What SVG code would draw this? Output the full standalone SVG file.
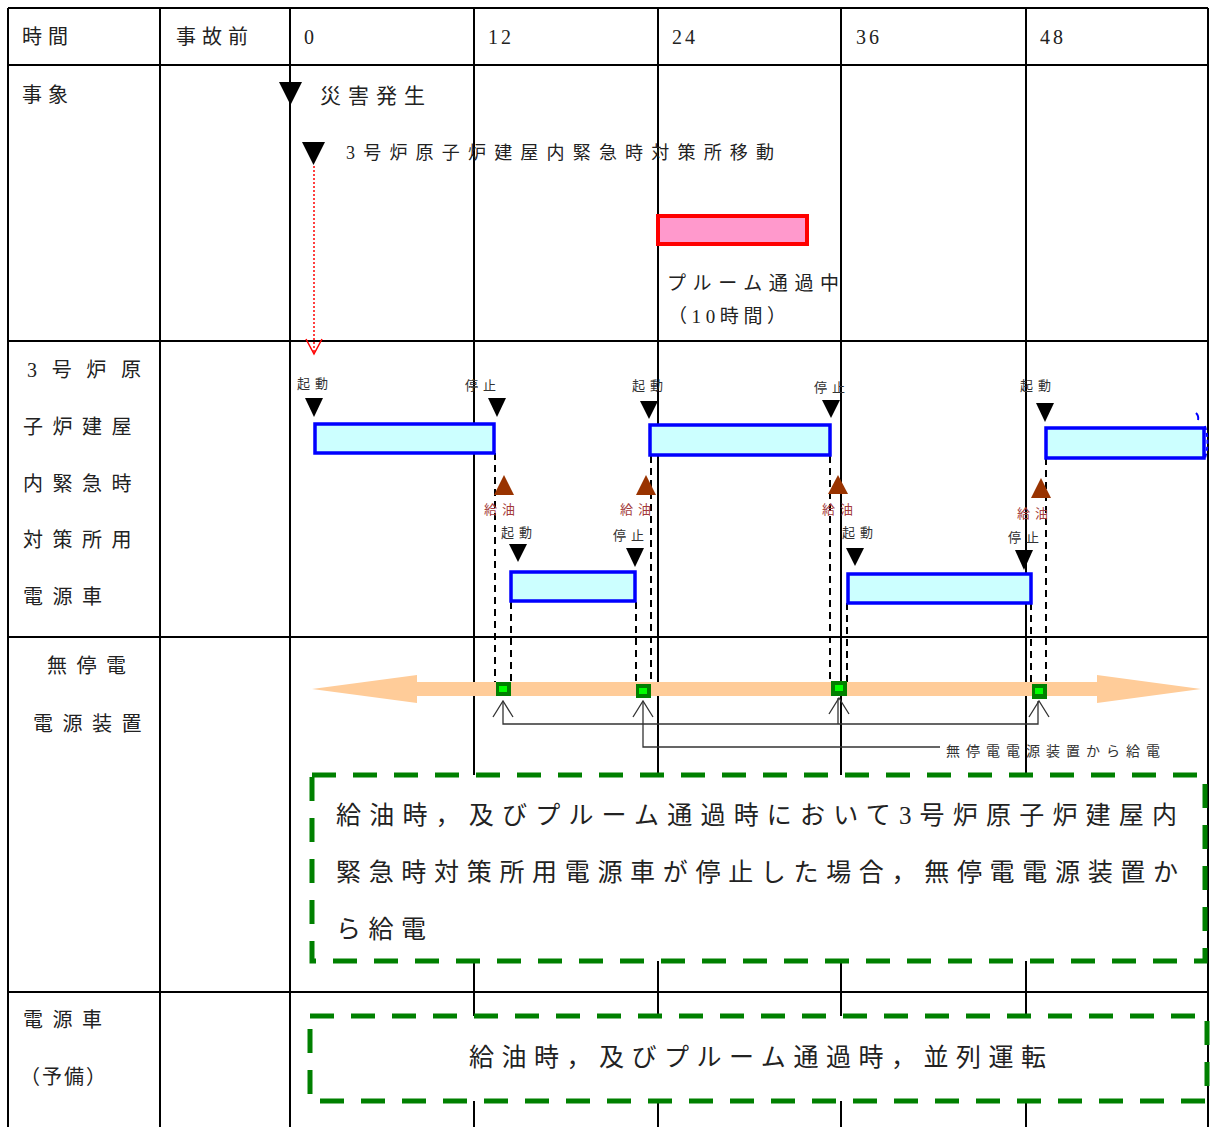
<svg xmlns="http://www.w3.org/2000/svg" width="1210" height="1127" viewBox="0 0 1210 1127">
<style>
text{font-family:"Liberation Serif","Noto Sans CJK JP",serif;fill:#222;dominant-baseline:central}
.h{font-size:20px;letter-spacing:6px}
.lbl{font-size:20px;letter-spacing:9.5px}
.sm{font-size:13px;letter-spacing:5px;fill:#333}
.oil{font-size:13px;letter-spacing:5px;fill:#a33a3a}
.grid{stroke:#000;stroke-width:2;fill:none}
.bar{fill:#ccffff;stroke:#0000ff;stroke-width:3.5}
.dash{stroke:#000;stroke-width:2;stroke-dasharray:7 5;fill:none}
.gbox{fill:#fff;stroke:#008000;stroke-width:5;stroke-dasharray:24 17}
.tri{fill:#000}
.toil{fill:#993300}
.conn{stroke:#333;stroke-width:1.3;fill:none}
.sq{fill:#008000}
.sqi{fill:#00ff00}
</style>
<rect x="0" y="0" width="1210" height="1127" fill="#fff"/>
<g id="grid" class="grid">
<path d="M8,8H1208M8,65H1208M8,341H1208M8,637H1208M8,992H1208"/>
<path d="M8,8V1127M160,8V1127M290,8V1127M474,8V1127M658,8V1127M841,8V1127M1026,8V1127M1208,8V1127"/>
</g>
<g id="header">
<text class="h" x="22" y="37">時間</text>
<text class="h" x="176" y="37">事故前</text>
<text class="h" x="304" y="37" style="letter-spacing:3px">0</text>
<text class="h" x="488" y="37" style="letter-spacing:3px">12</text>
<text class="h" x="672" y="37" style="letter-spacing:3px">24</text>
<text class="h" x="856" y="37" style="letter-spacing:3px">36</text>
<text class="h" x="1040" y="37" style="letter-spacing:3px">48</text>
</g>
<g id="row-labels">
<text class="h" x="22" y="95">事象</text>
<text class="lbl" x="27" y="370" textLength="114" lengthAdjust="spacing" style="letter-spacing:0">3号炉原</text>
<text class="lbl" x="23" y="427">子炉建屋</text>
<text class="lbl" x="23" y="484">内緊急時</text>
<text class="lbl" x="23" y="540">対策所用</text>
<text class="lbl" x="23" y="597">電源車</text>
<text class="lbl" x="47" y="666">無停電</text>
<text class="lbl" x="33" y="724">電源装置</text>
<text class="lbl" x="23" y="1020">電源車</text>
<text class="lbl" x="20" y="1077" textLength="86" lengthAdjust="spacing" style="letter-spacing:0">（予備）</text>
</g>
<g id="event-disaster">
<polygon class="tri" points="279,82 302,82 290.5,105"/>
<text x="320" y="96" style="font-size:21px;letter-spacing:7px">災害発生</text>
</g>
<g id="event-move">
<polygon class="tri" points="302,142 325,142 313.5,165"/>
<text x="346" y="153" style="font-size:18px" textLength="428" lengthAdjust="spacing">3号炉原子炉建屋内緊急時対策所移動</text>
</g>
<g id="event-plume">
<rect x="658" y="216" width="149" height="28" fill="#ff99cc" stroke="#ff0000" stroke-width="4"/>
<text x="667" y="283" style="font-size:19px" textLength="172" lengthAdjust="spacing">プルーム通過中</text>
<text x="668" y="316" style="font-size:19px" textLength="118" lengthAdjust="spacing">（10時間）</text>
</g>
<g id="connectors">
<path d="M314,166V353" stroke="#ff0000" stroke-width="1.5" stroke-dasharray="2 2" fill="none"/>
<path d="M306,339L314,354L322,339" stroke="#ff0000" stroke-width="1.5" fill="none"/>
<path class="dash" d="M495,453V683M511,602V683M636,602V685M651,456V685M830,456V683M847,603V683M1031,603V685M1046,458V685"/>
<path class="conn" d="M503,701V724H1038V701M838,698V724"/>
<path class="conn" d="M643,701V747H940"/>
<path class="conn" d="M493,717L503,701L513,717M633,717L643,701L653,717M829,714L839,698L849,714M1029,717L1039,701L1049,717"/>
</g>
<g id="car-run1">
<rect class="bar" x="315" y="424" width="179" height="29"/>
</g>
<g id="car-run2">
<rect class="bar" x="650" y="425" width="180" height="30"/>
</g>
<g id="car-run3">
<rect class="bar" x="1046" y="428" width="158" height="30"/>
<path d="M1196,413q3,3 2,7" stroke="#0000ff" stroke-width="2" fill="none"/>
<path d="M1205,426q5,16 0,32" stroke="#0000ff" stroke-width="2" stroke-dasharray="4 3" fill="none"/>
</g>
<g id="car-run4">
<rect class="bar" x="511" y="572" width="124" height="29"/>
</g>
<g id="car-run5">
<rect class="bar" x="848" y="574" width="183" height="29"/>
</g>
<g id="markers-start-stop">
<polygon class="tri" points="305,398 323,398 314,417"/>
<text class="sm" x="297" y="383">起動</text>
<polygon class="tri" points="488,398 506,398 497,417"/>
<text class="sm" x="465" y="385">停止</text>
<polygon class="tri" points="640,401 658,401 649,419"/>
<text class="sm" x="632" y="385">起動</text>
<polygon class="tri" points="822,400 840,400 831,418"/>
<text class="sm" x="814" y="387">停止</text>
<polygon class="tri" points="1036,403 1054,403 1045,422"/>
<text class="sm" x="1020" y="385">起動</text>
<polygon class="tri" points="509,544 527,544 518,562"/>
<text class="sm" x="501" y="532">起動</text>
<polygon class="tri" points="626,548 644,548 635,567"/>
<text class="sm" x="613" y="535">停止</text>
<polygon class="tri" points="846,548 864,548 855,566"/>
<text class="sm" x="842" y="532">起動</text>
<polygon class="tri" points="1015,550 1033,550 1024,570"/>
<text class="sm" x="1008" y="537">停止</text>
</g>
<g id="markers-refuel">
<polygon class="toil" points="504,475 494,495 514,495"/>
<text class="oil" x="484" y="509">給油</text>
<polygon class="toil" points="646,475 636,495 656,495"/>
<text class="oil" x="620" y="509">給油</text>
<polygon class="toil" points="838,475 828,494 848,494"/>
<text class="oil" x="822" y="509">給油</text>
<polygon class="toil" points="1041,478 1031,498 1051,498"/>
<text class="oil" x="1017" y="513">給油</text>
</g>
<g id="ups-line">
<path d="M312,689L417,675V682H1097V675L1201,689L1097,703V696H417V703Z" fill="#ffcc99"/>
</g>
<g id="ups-switch">
<rect class="sq" x="496" y="682" width="15" height="14"/><rect class="sqi" x="499" y="686" width="8" height="6"/>
<rect class="sq" x="636" y="684" width="15" height="14"/><rect class="sqi" x="639" y="688" width="8" height="6"/>
<rect class="sq" x="831" y="681" width="16" height="15"/><rect class="sqi" x="835" y="685" width="8" height="6"/>
<rect class="sq" x="1032" y="684" width="15" height="15"/><rect class="sqi" x="1035" y="688" width="8" height="6"/>
</g>
<g id="ups-label">
<text x="946" y="751" style="font-size:14px;letter-spacing:6px;fill:#333">無停電電源装置から給電</text>
</g>
<g id="note-ups">
<rect class="gbox" x="312" y="775" width="893" height="186"/>
<text x="336" y="815" style="font-size:25px" textLength="841" lengthAdjust="spacing">給油時，及びプルーム通過時において3号炉原子炉建屋内</text>
<text x="336" y="872" style="font-size:25px" textLength="842" lengthAdjust="spacing">緊急時対策所用電源車が停止した場合，無停電電源装置か</text>
<text x="336" y="929" style="font-size:25px;letter-spacing:7.5px">ら給電</text>
</g>
<g id="note-spare">
<rect class="gbox" x="310" y="1016" width="897" height="85"/>
<text x="469" y="1057" style="font-size:25px" textLength="577" lengthAdjust="spacing">給油時，及びプルーム通過時，並列運転</text>
</g>
</svg>
